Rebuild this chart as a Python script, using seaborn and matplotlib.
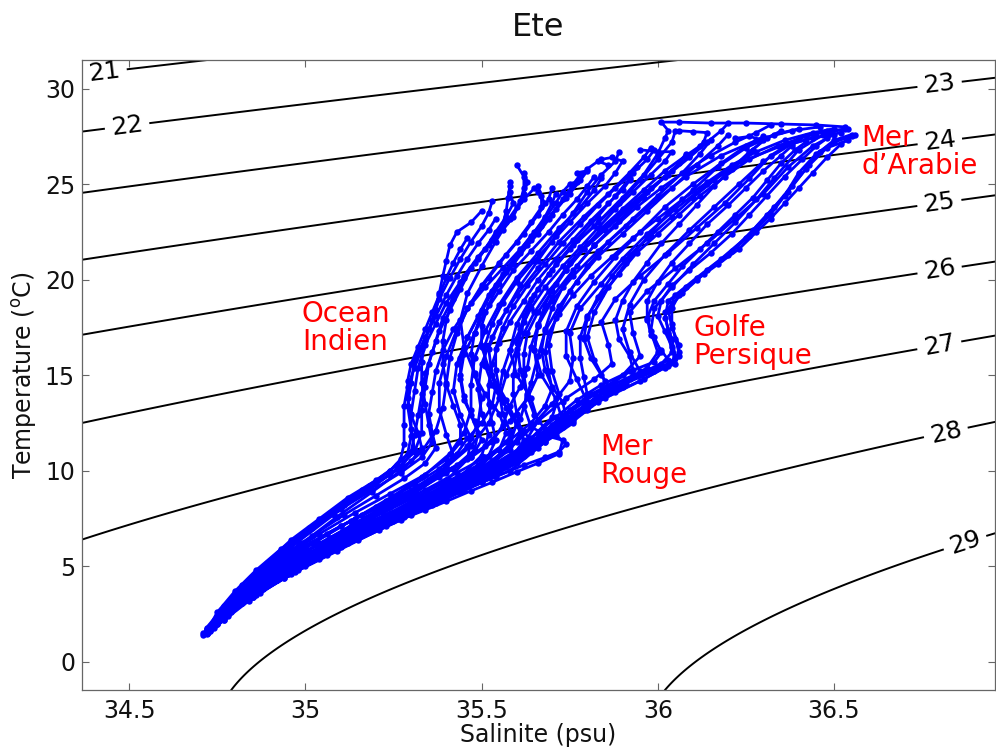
import numpy as np
import pandas as pd
import matplotlib
matplotlib.use("Agg")
import matplotlib.pyplot as plt
import seaborn as sns

# ---- T-S profiles (salinity psu, temperature degC), surface -> deep ----
# Ocean Indien water (fresh, left branch)
st_a1 = [(35.50, 23.6), (35.47, 23.0), (35.43, 22.5), (35.41, 21.8), (35.40, 21.0), (35.39, 20.2),
         (35.38, 19.3), (35.37, 18.4), (35.35, 17.4), (35.33, 16.4), (35.31, 15.4), (35.29, 14.4),
         (35.28, 13.4), (35.28, 12.4), (35.28, 11.4), (35.27, 10.6), (35.24, 10.0), (35.18, 9.2),
         (35.10, 8.1), (35.01, 6.9), (34.93, 5.6), (34.85, 4.4), (34.79, 3.2), (34.75, 2.3), (34.72, 1.6)]
st_a2 = [(35.60, 26.0), (35.62, 25.4), (35.62, 24.8), (35.61, 24.1), (35.59, 23.3), (35.56, 22.6),
         (35.52, 21.8), (35.48, 20.9), (35.44, 19.9), (35.40, 18.8), (35.37, 17.7), (35.34, 16.6),
         (35.32, 15.4), (35.31, 14.2), (35.30, 13.0), (35.30, 11.8), (35.29, 10.9), (35.24, 10.0),
         (35.16, 9.0), (35.07, 7.8), (34.98, 6.5), (34.89, 5.1), (34.82, 3.8), (34.76, 2.6), (34.72, 1.7)]
st_a3 = [(35.58, 24.9), (35.575, 24.3), (35.57, 23.6), (35.56, 22.9), (35.53, 22.1), (35.49, 21.2),
         (35.45, 20.2), (35.42, 19.1), (35.39, 18.0), (35.37, 16.8), (35.35, 15.6), (35.34, 14.4),
         (35.33, 13.2), (35.33, 12.0), (35.31, 11.0), (35.26, 10.1), (35.18, 9.0), (35.08, 7.7),
         (34.98, 6.3), (34.89, 4.9), (34.81, 3.6), (34.75, 2.4), (34.72, 1.6)]
st_a4 = [(35.66, 24.9), (35.67, 24.4), (35.67, 23.8), (35.64, 23.0), (35.60, 22.0), (35.55, 20.9),
         (35.50, 19.7), (35.46, 18.5), (35.43, 17.2), (35.41, 15.9), (35.40, 14.6), (35.39, 13.3),
         (35.37, 12.1), (35.33, 11.0), (35.27, 10.0), (35.19, 8.9), (35.09, 7.6), (34.99, 6.2),
         (34.89, 4.8), (34.81, 3.5), (34.75, 2.3), (34.72, 1.5)]
st_a5 = [(35.54, 23.2), (35.52, 22.6), (35.49, 21.9), (35.46, 21.1), (35.43, 20.2), (35.40, 19.2),
         (35.37, 18.1), (35.34, 17.0), (35.31, 15.8), (35.30, 14.6), (35.29, 13.4), (35.30, 12.2),
         (35.31, 11.1), (35.27, 10.2), (35.20, 9.3), (35.11, 8.2), (35.02, 7.0), (34.93, 5.6),
         (34.85, 4.3), (34.79, 3.1), (34.74, 2.1), (34.72, 1.5)]
st_a6 = [(35.46, 22.2), (35.44, 21.6), (35.42, 20.9), (35.40, 20.1), (35.38, 19.2), (35.36, 18.3),
         (35.34, 17.4), (35.32, 16.5), (35.30, 15.6), (35.29, 14.7), (35.29, 13.8), (35.30, 12.9),
         (35.32, 12.0), (35.33, 11.2), (35.30, 10.5), (35.24, 9.8), (35.17, 9.0), (35.09, 8.0),
         (35.01, 6.9), (34.94, 5.8), (34.87, 4.7), (34.81, 3.6), (34.76, 2.6), (34.72, 1.7)]
st_a7 = [(35.62, 25.6), (35.63, 25.1), (35.62, 24.5), (35.60, 23.8), (35.57, 23.0), (35.53, 22.1),
         (35.49, 21.1), (35.45, 20.1), (35.42, 19.0), (35.40, 17.9), (35.39, 16.8), (35.39, 15.6),
         (35.40, 14.5), (35.42, 13.4), (35.44, 12.4), (35.44, 11.5), (35.40, 10.6), (35.33, 9.7),
         (35.24, 8.8), (35.14, 7.8), (35.04, 6.7), (34.95, 5.6), (34.87, 4.5), (34.80, 3.4),
         (34.75, 2.4), (34.72, 1.6)]
st_a8 = [(35.53, 24.1), (35.52, 23.5), (35.50, 22.8), (35.47, 22.0), (35.44, 21.1), (35.41, 20.1),
         (35.38, 19.0), (35.36, 17.9), (35.34, 16.8), (35.33, 15.7), (35.33, 14.6), (35.34, 13.5),
         (35.35, 12.4), (35.36, 11.5), (35.33, 10.7), (35.27, 9.9), (35.19, 9.0), (35.10, 8.0),
         (35.01, 7.0), (34.93, 5.9), (34.86, 4.8), (34.80, 3.7), (34.75, 2.6), (34.72, 1.6)]
st_a9 = [(35.58, 25.1), (35.58, 24.6), (35.59, 24.0), (35.57, 23.3), (35.54, 22.5), (35.51, 21.6),
         (35.47, 20.6), (35.44, 19.5), (35.41, 18.4), (35.38, 17.3), (35.36, 16.2), (35.34, 15.1),
         (35.33, 14.0), (35.32, 12.9), (35.31, 11.9), (35.30, 11.0), (35.26, 10.3), (35.20, 9.5),
         (35.12, 8.6), (35.04, 7.5), (34.96, 6.4), (34.89, 5.2), (34.82, 4.0), (34.77, 2.9), (34.73, 1.9)]
st_a10 = [(35.71, 24.5), (35.70, 24.0), (35.68, 23.3), (35.65, 22.5), (35.61, 21.6), (35.56, 20.6),
          (35.51, 19.6), (35.46, 18.5), (35.42, 17.4), (35.39, 16.3), (35.37, 15.2), (35.36, 14.1),
          (35.35, 13.0), (35.36, 12.0), (35.37, 11.2), (35.34, 10.4), (35.28, 9.6), (35.20, 8.7),
          (35.11, 7.7), (35.02, 6.6), (34.93, 5.5), (34.86, 4.4), (34.80, 3.3), (34.75, 2.3), (34.72, 1.6)]

# Central stations
st_b1 = [(35.89, 26.7), (35.88, 26.2), (35.84, 25.5), (35.80, 24.6), (35.76, 23.5), (35.71, 22.3),
         (35.66, 21.0), (35.61, 19.7), (35.57, 18.4), (35.53, 17.0), (35.50, 15.6), (35.49, 14.3),
         (35.50, 13.0), (35.52, 11.9), (35.50, 10.8), (35.44, 9.7), (35.34, 8.6), (35.22, 7.4),
         (35.09, 6.1), (34.97, 4.9), (34.86, 3.7), (34.78, 2.5), (34.73, 1.7)]
st_b2 = [(35.78, 25.5), (35.76, 25.0), (35.73, 24.2), (35.69, 23.2), (35.64, 22.1), (35.59, 20.9),
         (35.54, 19.7), (35.50, 18.4), (35.46, 17.0), (35.43, 15.6), (35.42, 14.2), (35.44, 12.9),
         (35.47, 11.7), (35.46, 10.6), (35.40, 9.5), (35.30, 8.4), (35.18, 7.2), (35.05, 5.9),
         (34.93, 4.7), (34.84, 3.5), (34.77, 2.4), (34.72, 1.6)]
st_b3 = [(36.05, 27.8), (36.04, 27.2), (36.00, 26.3), (35.95, 25.2), (35.89, 24.0), (35.82, 22.8),
         (35.75, 21.6), (35.69, 20.3), (35.64, 19.0), (35.60, 17.7), (35.58, 16.3), (35.60, 15.0),
         (35.64, 13.8), (35.66, 12.6), (35.62, 11.4), (35.56, 10.3), (35.45, 9.2), (35.32, 8.0),
         (35.18, 6.8), (35.04, 5.5), (34.92, 4.3), (34.82, 3.1), (34.75, 2.0), (34.72, 1.5)]
st_b4 = [(36.15, 27.3), (36.12, 26.6), (36.07, 25.6), (36.00, 24.4), (35.93, 23.2), (35.86, 22.0),
         (35.80, 20.7), (35.75, 19.4), (35.71, 18.0), (35.69, 16.6), (35.70, 15.2), (35.72, 14.0),
         (35.70, 12.8), (35.64, 11.7), (35.57, 10.6), (35.48, 9.6), (35.36, 8.5), (35.22, 7.2),
         (35.08, 5.9), (34.95, 4.6), (34.85, 3.4), (34.77, 2.3), (34.72, 1.6)]
st_b5 = [(35.98, 26.9), (35.96, 26.4), (35.92, 25.6), (35.86, 24.5), (35.79, 23.3), (35.72, 22.0),
         (35.66, 20.6), (35.60, 19.2), (35.55, 17.8), (35.52, 16.4), (35.53, 15.0), (35.57, 13.7),
         (35.60, 12.5), (35.58, 11.4), (35.52, 10.3), (35.42, 9.2), (35.29, 8.0), (35.15, 6.7),
         (35.01, 5.4), (34.90, 4.2), (34.80, 3.0), (34.74, 1.9), (34.71, 1.4)]
st_b6 = [(36.20, 27.6), (36.17, 27.0), (36.11, 26.0), (36.04, 24.8), (35.97, 23.6), (35.90, 22.4),
         (35.83, 21.2), (35.77, 19.9), (35.72, 18.6), (35.68, 17.3), (35.66, 16.0), (35.64, 14.6),
         (35.62, 13.4), (35.64, 12.3), (35.69, 11.8), (35.73, 11.6), (35.72, 10.9), (35.66, 10.4),
         (35.60, 9.95), (35.53, 9.4), (35.47, 8.95), (35.40, 8.4), (35.34, 7.95), (35.27, 7.45),
         (35.21, 7.0), (35.15, 6.5), (35.10, 6.1), (35.05, 5.7), (35.00, 5.3), (34.95, 4.8),
         (34.90, 4.3), (34.86, 3.8), (34.82, 3.2), (34.79, 2.8), (34.76, 2.3), (34.74, 1.9), (34.72, 1.5)]
st_b7 = [(35.70, 24.8), (35.69, 24.2), (35.66, 23.4), (35.62, 22.4), (35.57, 21.3), (35.52, 20.1),
         (35.47, 18.8), (35.43, 17.4), (35.40, 16.0), (35.38, 14.6), (35.38, 13.2), (35.40, 11.9),
         (35.42, 10.8), (35.38, 9.7), (35.30, 8.7), (35.19, 7.5), (35.06, 6.2), (34.94, 4.9),
         (34.84, 3.7), (34.77, 2.5), (34.72, 1.6)]
st_b8 = [(35.94, 25.9), (35.92, 25.3), (35.88, 24.4), (35.83, 23.3), (35.77, 22.1), (35.71, 20.8),
         (35.66, 19.5), (35.62, 18.1), (35.60, 16.7), (35.61, 15.3), (35.63, 14.0), (35.61, 12.7),
         (35.57, 11.5), (35.50, 10.3), (35.40, 9.2), (35.27, 8.0), (35.13, 6.7), (34.99, 5.3),
         (34.88, 4.1), (34.79, 2.9), (34.73, 1.8)]
st_b9 = [(35.68, 24.0), (35.66, 24.6), (35.65, 24.8), (35.62, 24.2), (35.58, 23.2), (35.54, 22.0),
         (35.50, 20.7), (35.46, 19.3), (35.44, 17.9), (35.45, 16.5), (35.48, 15.1), (35.50, 13.8),
         (35.49, 12.5), (35.46, 11.3), (35.40, 10.2), (35.31, 9.1), (35.20, 7.9), (35.07, 6.5),
         (34.95, 5.2), (34.85, 3.9), (34.77, 2.6), (34.73, 1.7)]
st_b10 = [(36.08, 26.6), (36.06, 26.1), (36.02, 25.4), (35.96, 24.3), (35.89, 23.1), (35.82, 21.8),
          (35.76, 20.5), (35.70, 19.1), (35.66, 17.7), (35.65, 16.3), (35.67, 15.0), (35.71, 13.8),
          (35.73, 12.6), (35.68, 11.5), (35.60, 10.4), (35.50, 9.4), (35.37, 8.3), (35.23, 7.1),
          (35.09, 5.8), (34.96, 4.6), (34.85, 3.4), (34.77, 2.3), (34.72, 1.5)]
st_b11 = [(36.30, 27.5), (36.25, 27.0), (36.18, 26.1), (36.10, 25.0), (36.02, 23.8), (35.95, 22.5),
          (35.88, 21.2), (35.82, 19.9), (35.77, 18.6), (35.74, 17.3), (35.74, 16.0), (35.77, 14.8),
          (35.80, 13.6), (35.76, 12.5), (35.68, 11.5), (35.60, 10.5), (35.50, 9.5), (35.38, 8.5),
          (35.24, 7.3), (35.10, 6.0), (34.97, 4.7), (34.86, 3.5), (34.78, 2.4), (34.73, 1.6)]
st_b12 = [(35.84, 25.3), (35.82, 24.7), (35.78, 23.8), (35.72, 22.7), (35.66, 21.4), (35.60, 20.1),
          (35.55, 18.7), (35.51, 17.3), (35.48, 15.9), (35.47, 14.5), (35.47, 13.2), (35.45, 12.0),
          (35.41, 10.9), (35.34, 9.8), (35.25, 8.7), (35.14, 7.5), (35.02, 6.2), (34.91, 4.9),
          (34.82, 3.6), (34.76, 2.4), (34.72, 1.6)]
st_b13 = [(35.86, 26.0), (35.83, 26.2), (35.80, 25.8), (35.77, 25.1), (35.74, 24.3), (35.70, 23.4),
          (35.66, 22.4), (35.61, 21.4), (35.57, 20.4), (35.53, 19.4), (35.50, 18.3), (35.48, 17.2),
          (35.47, 16.1), (35.48, 15.0), (35.51, 14.0), (35.55, 13.0), (35.57, 12.0), (35.55, 11.1),
          (35.49, 10.3), (35.41, 9.5), (35.32, 8.7), (35.22, 7.8), (35.11, 6.8), (35.00, 5.8),
          (34.91, 4.8), (34.83, 3.8), (34.77, 2.8), (34.73, 1.9)]
st_b14 = [(35.95, 26.8), (36.00, 26.7), (36.04, 26.7), (36.02, 26.2), (35.98, 25.5), (35.93, 24.6),
          (35.88, 23.7), (35.83, 22.7), (35.78, 21.7), (35.73, 20.7), (35.68, 19.6), (35.64, 18.5),
          (35.61, 17.4), (35.58, 16.3), (35.56, 15.2), (35.55, 14.1), (35.56, 13.0), (35.58, 12.1),
          (35.58, 11.3), (35.53, 10.5), (35.45, 9.7), (35.35, 8.8), (35.24, 7.8), (35.12, 6.8),
          (35.01, 5.7), (34.91, 4.6), (34.83, 3.5), (34.77, 2.5), (34.73, 1.7)]
st_b15 = [(35.75, 25.0), (35.73, 24.6), (35.71, 24.0), (35.68, 23.2), (35.64, 22.3), (35.60, 21.3),
          (35.56, 20.3), (35.52, 19.2), (35.49, 18.1), (35.46, 17.0), (35.44, 15.9), (35.44, 14.8),
          (35.45, 13.7), (35.48, 12.6), (35.50, 11.6), (35.47, 10.7), (35.40, 9.9), (35.31, 9.0),
          (35.21, 8.1), (35.10, 7.1), (34.99, 6.0), (34.90, 4.9), (34.82, 3.8), (34.76, 2.7), (34.72, 1.8)]
st_b16 = [(36.12, 27.0), (36.08, 26.5), (36.02, 25.7), (35.96, 24.7), (35.90, 23.7), (35.84, 22.7),
          (35.79, 21.6), (35.74, 20.5), (35.70, 19.4), (35.66, 18.3), (35.63, 17.2), (35.62, 16.1),
          (35.62, 15.0), (35.63, 13.9), (35.65, 12.9), (35.68, 12.2), (35.71, 11.9), (35.74, 11.4),
          (35.72, 11.0), (35.68, 10.7), (35.62, 10.3), (35.54, 9.7), (35.44, 8.9), (35.32, 8.0),
          (35.20, 7.0), (35.08, 5.9), (34.97, 4.8), (34.87, 3.7), (34.79, 2.7), (34.74, 1.9), (34.72, 1.5)]
st_b17 = [(35.99, 26.8), (35.97, 26.3), (35.93, 25.6), (35.88, 24.8), (35.83, 23.9), (35.78, 22.9),
          (35.73, 21.9), (35.68, 20.8), (35.63, 19.7), (35.59, 18.6), (35.56, 17.5), (35.54, 16.4),
          (35.54, 15.3), (35.55, 14.3), (35.57, 13.3), (35.60, 12.4), (35.62, 11.6), (35.59, 10.8),
          (35.53, 10.1), (35.45, 9.3), (35.36, 8.4), (35.26, 7.5), (35.15, 6.5), (35.04, 5.4),
          (34.94, 4.4), (34.85, 3.4), (34.78, 2.5), (34.73, 1.7)]
st_b18 = [(35.82, 25.4), (35.80, 24.9), (35.77, 24.2), (35.73, 23.4), (35.69, 22.5), (35.64, 21.5),
          (35.59, 20.5), (35.55, 19.4), (35.51, 18.3), (35.48, 17.2), (35.45, 16.1), (35.44, 15.0),
          (35.45, 13.9), (35.47, 12.9), (35.49, 12.0), (35.48, 11.1), (35.43, 10.3), (35.35, 9.5),
          (35.26, 8.6), (35.16, 7.7), (35.06, 6.7), (34.96, 5.6), (34.88, 4.5), (34.81, 3.4),
          (34.76, 2.4), (34.72, 1.6)]
st_b19 = [(35.92, 25.2), (35.90, 24.7), (35.86, 24.0), (35.81, 23.1), (35.76, 22.1), (35.71, 21.1),
          (35.66, 20.0), (35.62, 18.9), (35.58, 17.8), (35.55, 16.7), (35.53, 15.6), (35.52, 14.5),
          (35.52, 13.5), (35.53, 12.5), (35.54, 11.6), (35.52, 10.8), (35.47, 10.0), (35.39, 9.2),
          (35.30, 8.3), (35.20, 7.4), (35.09, 6.4), (34.99, 5.3), (34.90, 4.2), (34.82, 3.2),
          (34.76, 2.3), (34.72, 1.6)]
st_b20 = [(36.20, 28.2), (36.18, 27.8), (36.14, 27.2), (36.09, 26.4), (36.03, 25.5), (35.97, 24.6),
          (35.91, 23.6), (35.85, 22.6), (35.79, 21.6), (35.74, 20.5), (35.69, 19.4), (35.65, 18.3),
          (35.62, 17.2), (35.60, 16.1), (35.59, 15.0), (35.59, 14.0), (35.60, 13.0), (35.61, 12.0),
          (35.58, 11.1), (35.52, 10.3), (35.44, 9.5), (35.34, 8.6), (35.23, 7.7), (35.12, 6.7),
          (35.01, 5.6), (34.92, 4.5), (34.83, 3.4), (34.77, 2.4), (34.72, 1.6)]
st_b21 = [(36.06, 27.8), (36.10, 27.75), (36.14, 27.7), (36.13, 27.2), (36.09, 26.5), (36.04, 25.7),
          (35.98, 24.8), (35.92, 23.9), (35.86, 22.9), (35.80, 21.9), (35.75, 20.9), (35.71, 19.8),
          (35.68, 18.7), (35.66, 17.6), (35.64, 16.5), (35.63, 15.4), (35.61, 14.4), (35.58, 13.4),
          (35.56, 12.4), (35.53, 11.5), (35.47, 10.7), (35.39, 9.9), (35.30, 9.0), (35.20, 8.1),
          (35.10, 7.1), (35.00, 6.0), (34.91, 4.9), (34.83, 3.8), (34.77, 2.7), (34.73, 1.8)]
st_b22 = [(35.84, 26.3), (35.87, 26.4), (35.90, 26.2), (35.88, 25.6), (35.85, 24.9), (35.80, 24.0),
          (35.75, 23.0), (35.70, 22.0), (35.65, 21.0), (35.60, 19.9), (35.56, 18.8), (35.53, 17.7),
          (35.51, 16.6), (35.51, 15.5), (35.53, 14.5), (35.56, 13.6), (35.59, 12.8), (35.62, 12.1),
          (35.64, 11.5), (35.60, 10.8), (35.52, 10.1), (35.43, 9.3), (35.33, 8.5), (35.22, 7.6),
          (35.11, 6.6), (35.00, 5.6), (34.90, 4.5), (34.82, 3.4), (34.76, 2.4), (34.72, 1.6)]
st_b23 = [(35.77, 25.6), (35.80, 25.7), (35.78, 25.2), (35.75, 24.5), (35.71, 23.7), (35.67, 22.8),
          (35.63, 21.8), (35.59, 20.8), (35.55, 19.8), (35.52, 18.7), (35.50, 17.6), (35.50, 16.5),
          (35.52, 15.4), (35.54, 14.4), (35.53, 13.4), (35.50, 12.5), (35.46, 11.7), (35.43, 10.9),
          (35.38, 10.1), (35.31, 9.3), (35.23, 8.4), (35.13, 7.4), (35.03, 6.3), (34.94, 5.2),
          (34.86, 4.1), (34.80, 3.0), (34.75, 2.1), (34.72, 1.5)]

# Mer d'Arabie surface water feeding the Golfe Persique tongue
st_c1 = [(36.55, 27.5), (36.50, 27.2), (36.45, 26.6), (36.40, 25.6), (36.36, 24.4), (36.32, 23.4),
         (36.26, 22.3), (36.20, 21.3), (36.13, 20.3), (36.07, 19.3), (36.02, 18.3), (36.03, 17.2),
         (36.04, 16.2), (36.01, 15.6), (35.92, 14.8), (35.82, 13.6), (35.74, 12.6), (35.66, 11.2),
         (35.58, 10.0), (35.45, 9.0), (35.30, 7.7), (35.15, 6.4), (35.00, 5.0), (34.88, 3.8),
         (34.80, 2.8), (34.75, 2.0), (34.72, 1.5)]
st_c2 = [(36.53, 27.9), (36.47, 27.6), (36.40, 26.8), (36.33, 25.3), (36.28, 24.2), (36.22, 23.0),
         (36.16, 21.9), (36.10, 20.8), (36.04, 19.6), (35.99, 18.5), (35.98, 17.3), (36.00, 16.2),
         (35.97, 15.4), (35.88, 14.4), (35.80, 13.2), (35.72, 12.2), (35.62, 10.8), (35.52, 9.7),
         (35.40, 8.6), (35.25, 7.4), (35.10, 6.1), (34.97, 4.8), (34.86, 3.6), (34.78, 2.5), (34.73, 1.7)]
st_c3 = [(36.50, 27.6), (36.44, 27.0), (36.37, 25.9), (36.30, 24.5), (36.22, 23.2), (36.14, 21.9),
         (36.05, 20.6), (35.97, 19.4), (35.92, 18.3), (35.93, 17.2), (35.95, 16.0), (35.90, 15.0),
         (35.82, 14.0), (35.74, 12.9), (35.67, 11.9), (35.58, 10.6), (35.47, 9.5), (35.33, 8.3),
         (35.18, 7.0), (35.04, 5.7), (34.92, 4.4), (34.82, 3.2), (34.75, 2.1), (34.72, 1.5)]
st_c4 = [(36.53, 28.0), (36.45, 28.1), (36.35, 28.15), (36.25, 28.2), (36.15, 28.2), (36.06, 28.25),
         (36.01, 28.25), (36.03, 27.8), (36.02, 27.4), (36.00, 26.6), (35.96, 25.5), (35.90, 24.3),
         (35.83, 23.0), (35.76, 21.8), (35.70, 20.5), (35.65, 19.2), (35.62, 17.8), (35.60, 16.4),
         (35.57, 15.0), (35.55, 13.8), (35.52, 12.5), (35.47, 11.3), (35.40, 10.2), (35.30, 8.9),
         (35.18, 7.6), (35.05, 6.1), (34.93, 4.8), (34.83, 3.5), (34.76, 2.3), (34.72, 1.6)]
st_c5 = [(36.54, 27.3), (36.48, 26.9), (36.43, 26.0), (36.38, 24.9), (36.33, 23.8), (36.27, 22.6),
         (36.21, 21.5), (36.14, 20.5), (36.08, 19.6), (36.03, 18.9), (36.02, 18.0), (36.04, 16.9),
         (36.05, 16.0), (36.03, 15.5), (35.95, 14.7), (35.85, 13.8), (35.76, 12.9), (35.70, 12.2),
         (35.63, 11.1), (35.55, 10.0), (35.42, 8.9), (35.28, 7.6), (35.12, 6.2), (34.98, 4.8),
         (34.87, 3.6), (34.79, 2.6), (34.74, 1.8), (34.72, 1.45)]
st_c6 = [(36.48, 27.8), (36.40, 27.4), (36.32, 26.5), (36.26, 25.3), (36.19, 24.0), (36.11, 22.7),
         (36.03, 21.4), (35.95, 20.2), (35.88, 19.0), (35.84, 17.8), (35.86, 16.6), (35.87, 15.6),
         (35.82, 14.8), (35.74, 13.8), (35.66, 12.6), (35.60, 11.5), (35.52, 10.2), (35.40, 9.0),
         (35.26, 7.8), (35.12, 6.5), (34.99, 5.2), (34.88, 4.0), (34.79, 2.8), (34.74, 1.9), (34.72, 1.5)]
st_c7 = [(36.52, 27.7), (36.44, 27.4), (36.35, 27.0), (36.24, 26.2), (36.14, 25.0), (36.05, 23.7),
         (35.97, 22.4), (35.90, 21.1), (35.84, 19.8), (35.78, 18.5), (35.75, 17.2), (35.76, 15.9),
         (35.75, 14.7), (35.70, 13.5), (35.64, 12.3), (35.57, 11.1), (35.48, 9.9), (35.36, 8.7),
         (35.22, 7.4), (35.08, 6.1), (34.95, 4.8), (34.85, 3.6), (34.77, 2.4), (34.72, 1.6)]
st_c8 = [(36.46, 28.0), (36.38, 27.8), (36.28, 27.3), (36.18, 26.5), (36.08, 25.4), (35.99, 24.1),
         (35.91, 22.8), (35.83, 21.5), (35.76, 20.2), (35.70, 18.9), (35.66, 17.6), (35.65, 16.3),
         (35.66, 15.0), (35.63, 13.8), (35.58, 12.6), (35.51, 11.3), (35.42, 10.1), (35.31, 8.9),
         (35.18, 7.6), (35.04, 6.2), (34.92, 4.9), (34.82, 3.6), (34.75, 2.3), (34.71, 1.5)]
st_c9 = [(36.55, 27.6), (36.50, 27.3), (36.46, 26.7), (36.42, 25.8), (36.37, 24.6), (36.31, 23.4),
         (36.25, 22.2), (36.18, 21.1), (36.11, 20.1), (36.05, 19.2), (36.03, 18.4), (36.04, 17.5),
         (36.06, 16.6), (36.06, 16.0), (36.04, 15.7), (35.95, 15.0), (35.85, 14.2), (35.77, 13.1),
         (35.72, 12.4), (35.66, 11.6), (35.60, 10.5), (35.50, 9.4), (35.36, 8.2), (35.21, 6.9),
         (35.06, 5.6), (34.94, 4.4), (34.84, 3.2), (34.77, 2.2), (34.73, 1.6)]
st_c10 = [(36.40, 27.9), (36.33, 27.6), (36.25, 26.9), (36.17, 25.9), (36.10, 24.7), (36.03, 23.5),
          (35.97, 22.2), (35.91, 20.9), (35.86, 19.6), (35.82, 18.3), (35.80, 17.0), (35.82, 15.8),
          (35.85, 14.7), (35.83, 13.6), (35.76, 12.6), (35.68, 11.6), (35.60, 10.6), (35.49, 9.6),
          (35.36, 8.5), (35.22, 7.2), (35.08, 5.9), (34.95, 4.6), (34.84, 3.3), (34.77, 2.2), (34.72, 1.5)]
st_c11 = [(36.45, 27.5), (36.38, 27.1), (36.30, 26.2), (36.23, 25.0), (36.16, 23.8), (36.09, 22.6),
          (36.02, 21.3), (35.96, 20.0), (35.92, 18.7), (35.90, 17.4), (35.92, 16.2), (35.95, 15.2),
          (35.90, 14.4), (35.81, 13.5), (35.73, 12.5), (35.65, 11.4), (35.56, 10.3), (35.45, 9.3),
          (35.32, 8.2), (35.18, 6.9), (35.04, 5.6), (34.92, 4.3), (34.82, 3.1), (34.75, 2.0), (34.72, 1.5)]
st_c12 = [(36.50, 27.9), (36.44, 27.7), (36.36, 27.3), (36.28, 26.7), (36.21, 26.0), (36.14, 25.1),
          (36.07, 24.2), (36.00, 23.2), (35.93, 22.2), (35.87, 21.2), (35.81, 20.2), (35.76, 19.2),
          (35.72, 18.2), (35.69, 17.2), (35.68, 16.2), (35.69, 15.2), (35.70, 14.3), (35.68, 13.4),
          (35.64, 12.5), (35.58, 11.6), (35.51, 10.7), (35.43, 9.9), (35.34, 9.0), (35.24, 8.1),
          (35.13, 7.1), (35.03, 6.1), (34.94, 5.1), (34.86, 4.1), (34.80, 3.2), (34.76, 2.4), (34.73, 1.7)]
st_c13 = [(36.42, 27.2), (36.39, 26.8), (36.35, 26.1), (36.31, 25.2), (36.27, 24.3), (36.22, 23.4),
          (36.17, 22.5), (36.12, 21.6), (36.07, 20.7), (36.03, 19.8), (35.99, 18.9), (35.97, 18.0),
          (35.98, 17.1), (36.01, 16.3), (36.03, 15.8), (36.00, 15.5), (35.93, 15.0), (35.86, 14.4),
          (35.79, 13.7), (35.73, 12.9), (35.68, 12.1), (35.62, 11.2), (35.55, 10.3), (35.46, 9.5),
          (35.36, 8.6), (35.25, 7.7), (35.13, 6.7), (35.02, 5.7), (34.92, 4.7), (34.84, 3.7),
          (34.78, 2.8), (34.74, 2.0), (34.72, 1.5)]
st_c14 = [(36.35, 27.8), (36.31, 27.4), (36.26, 26.7), (36.21, 25.8), (36.16, 24.9), (36.11, 23.9),
          (36.06, 22.9), (36.01, 21.9), (35.97, 20.9), (35.93, 19.9), (35.90, 18.9), (35.88, 17.9),
          (35.89, 16.9), (35.92, 16.0), (35.93, 15.3), (35.88, 14.7), (35.81, 14.0), (35.75, 13.2),
          (35.70, 12.4), (35.65, 11.6), (35.59, 10.8), (35.51, 10.0), (35.42, 9.1), (35.31, 8.2),
          (35.19, 7.2), (35.07, 6.1), (34.96, 5.0), (34.87, 3.9), (34.80, 2.9), (34.75, 2.1), (34.72, 1.5)]
st_c15 = [(36.48, 27.4), (36.45, 27.0), (36.41, 26.3), (36.36, 25.4), (36.31, 24.4), (36.26, 23.4),
          (36.21, 22.4), (36.15, 21.4), (36.09, 20.5), (36.04, 19.7), (36.01, 18.9), (36.00, 18.1),
          (36.02, 17.3), (36.04, 16.5), (36.05, 15.9), (36.02, 15.4), (35.96, 14.8), (35.88, 14.1),
          (35.80, 13.3), (35.74, 12.5), (35.69, 11.8), (35.64, 11.0), (35.57, 10.2), (35.48, 9.4),
          (35.37, 8.5), (35.25, 7.5), (35.13, 6.5), (35.01, 5.4), (34.91, 4.3), (34.83, 3.3),
          (34.77, 2.4), (34.73, 1.7)]
st_c16 = [(36.56, 27.6), (36.52, 27.1), (36.48, 26.4), (36.44, 25.6), (36.40, 24.8), (36.36, 24.0),
          (36.32, 23.2), (36.28, 22.5), (36.23, 21.6), (36.17, 20.8), (36.11, 20.0), (36.06, 19.2),
          (36.04, 18.5), (36.04, 17.7), (36.05, 16.9), (36.06, 16.2), (36.05, 15.6), (35.99, 15.2),
          (35.91, 14.6), (35.83, 13.9), (35.76, 13.0), (35.71, 12.3), (35.66, 11.5), (35.60, 10.6),
          (35.51, 9.7), (35.40, 8.8), (35.28, 7.8), (35.16, 6.8), (35.04, 5.7), (34.94, 4.6),
          (34.85, 3.5), (34.78, 2.5), (34.73, 1.7)]
st_c17 = [(36.32, 28.1), (36.28, 27.7), (36.22, 27.2), (36.15, 26.5), (36.08, 25.7), (36.01, 24.8),
          (35.94, 23.8), (35.88, 22.8), (35.82, 21.8), (35.77, 20.7), (35.73, 19.6), (35.70, 18.5),
          (35.68, 17.4), (35.67, 16.3), (35.68, 15.3), (35.70, 14.4), (35.73, 13.6), (35.74, 12.8),
          (35.70, 12.0), (35.64, 11.2), (35.57, 10.4), (35.48, 9.6), (35.38, 8.8), (35.27, 7.9),
          (35.15, 6.9), (35.04, 5.8), (34.94, 4.7), (34.85, 3.6), (34.78, 2.6), (34.73, 1.7)]
st_c18 = [(36.38, 27.0), (36.35, 26.5), (36.30, 25.7), (36.25, 24.8), (36.20, 23.9), (36.14, 22.9),
          (36.09, 21.9), (36.04, 20.9), (36.00, 19.9), (35.97, 18.9), (35.97, 17.9), (35.99, 17.0),
          (36.01, 16.2), (35.99, 15.7), (35.92, 15.2), (35.84, 14.5), (35.77, 13.7), (35.71, 12.8),
          (35.66, 12.0), (35.61, 11.2), (35.54, 10.4), (35.45, 9.6), (35.35, 8.7), (35.23, 7.7),
          (35.11, 6.7), (35.00, 5.6), (34.90, 4.5), (34.82, 3.4), (34.76, 2.4), (34.72, 1.6)]
st_c19 = [(36.54, 27.9), (36.49, 27.8), (36.42, 27.5), (36.34, 27.0), (36.26, 26.3), (36.19, 25.4),
          (36.12, 24.4), (36.06, 23.4), (36.00, 22.4), (35.94, 21.4), (35.89, 20.3), (35.84, 19.2),
          (35.80, 18.1), (35.78, 17.0), (35.78, 15.9), (35.79, 14.9), (35.80, 14.0), (35.78, 13.1),
          (35.73, 12.3), (35.67, 11.5), (35.60, 10.7), (35.52, 9.9), (35.42, 9.1), (35.31, 8.2),
          (35.19, 7.2), (35.08, 6.2), (34.97, 5.1), (34.88, 4.0), (34.80, 3.0), (34.75, 2.1), (34.72, 1.5)]
st_c20 = [(36.22, 27.4), (36.26, 27.5), (36.30, 27.3), (36.27, 26.8), (36.22, 26.0), (36.16, 25.2),
          (36.10, 24.3), (36.04, 23.3), (35.98, 22.3), (35.92, 21.3), (35.87, 20.2), (35.83, 19.1),
          (35.80, 18.0), (35.79, 16.9), (35.81, 15.9), (35.84, 15.0), (35.86, 14.4), (35.82, 13.7),
          (35.76, 13.0), (35.70, 12.2), (35.64, 11.4), (35.57, 10.6), (35.49, 9.8), (35.39, 9.0),
          (35.28, 8.1), (35.16, 7.1), (35.05, 6.0), (34.95, 4.9), (34.86, 3.8), (34.79, 2.8),
          (34.74, 1.9), (34.72, 1.5)]

profiles = {
    "a1": st_a1, "a2": st_a2, "a3": st_a3, "a4": st_a4, "a5": st_a5,
    "a6": st_a6, "a7": st_a7, "a8": st_a8, "a9": st_a9, "a10": st_a10,
    "b1": st_b1, "b2": st_b2, "b3": st_b3, "b4": st_b4, "b5": st_b5, "b6": st_b6,
    "b7": st_b7, "b8": st_b8, "b9": st_b9, "b10": st_b10, "b11": st_b11, "b12": st_b12,
    "b13": st_b13, "b14": st_b14, "b15": st_b15, "b16": st_b16, "b17": st_b17,
    "b18": st_b18, "b19": st_b19, "b20": st_b20, "b21": st_b21, "b22": st_b22, "b23": st_b23,
    "c1": st_c1, "c2": st_c2, "c3": st_c3, "c4": st_c4, "c5": st_c5, "c6": st_c6,
    "c7": st_c7, "c8": st_c8, "c9": st_c9, "c10": st_c10, "c11": st_c11, "c12": st_c12,
    "c13": st_c13, "c14": st_c14, "c15": st_c15, "c16": st_c16, "c17": st_c17,
    "c18": st_c18, "c19": st_c19, "c20": st_c20,
}

sigma_levels = [21, 22, 23, 24, 25, 26, 27, 28, 29]

regions = ["Ocean\nIndien", "Golfe\nPersique", "Mer\nRouge", "Mer\nd\u2019Arabie"]
region_pos = [(34.99, 17.45), (36.10, 16.72), (35.838, 10.53), (36.577, 26.68)]

# label anchors for the isopycnals (salinity, temperature)
clabel_pos = [(34.43, 30.88), (34.494, 28.04), (36.80, 30.19), (36.80, 27.3), (36.80, 23.9),
              (36.80, 20.48), (36.80, 16.45), (36.82, 11.8), (36.875, 6.07)]

rows = []
for name, pts in profiles.items():
    for s, t in pts:
        rows.append({"profile": name, "S": s, "T": t})
df = pd.DataFrame(rows)


def sigma_t(S, T):
    """EOS-80 one-atmosphere density anomaly (kg m-3)."""
    rw = (999.842594 + 6.793952e-2 * T - 9.095290e-3 * T**2 + 1.001685e-4 * T**3
          - 1.120083e-6 * T**4 + 6.536332e-9 * T**5)
    a = 0.824493 - 4.0899e-3 * T + 7.6438e-5 * T**2 - 8.2467e-7 * T**3 + 5.3875e-9 * T**4
    b = -5.72466e-3 + 1.0227e-4 * T - 1.6546e-6 * T**2
    c = 4.8314e-4
    return rw + a * S + b * S**1.5 + c * S**2 - 1000.0


sns.set_theme(style="white")
plt.rcParams["font.family"] = ["DejaVu Sans"]
plt.rcParams["mathtext.fontset"] = "dejavusans"

fig = plt.figure(figsize=(9.96, 7.48), dpi=100)
ax = fig.add_axes([82 / 996, 1 - 690 / 748, (995 - 82) / 996, (690 - 60) / 748])

xlim = (34.366, 36.957)
ylim = (-1.47, 31.5)

sg, tg = np.meshgrid(np.linspace(34.2, 37.1, 300), np.linspace(-3, 33, 300))
cs = ax.contour(sg, tg, sigma_t(sg, tg), levels=sigma_levels, colors="black", linewidths=1.4)

sns.lineplot(data=df, x="S", y="T", units="profile", estimator=None, sort=False,
             color="#0000ff", lw=2.0, marker="o", markersize=4.6, markeredgewidth=0,
             legend=False, ax=ax, zorder=3)

ax.clabel(cs, fmt="%d", manual=clabel_pos, inline=True, inline_spacing=4, fontsize=18, colors="black")

for txt, (x, y) in zip(regions, region_pos):
    ax.text(x, y, txt, color="#ff0000", fontsize=20, ha="left", va="center", linespacing=1.0, zorder=5)

ax.set_xlim(*xlim)
ax.set_ylim(*ylim)
ax.set_xticks([34.5, 35, 35.5, 36, 36.5])
ax.set_xticklabels(["34.5", "35", "35.5", "36", "36.5"])
ax.set_yticks([0, 5, 10, 15, 20, 25, 30])
ax.tick_params(direction="in", length=5, width=0.8, color="#666666", labelsize=17,
               top=True, right=True, bottom=True, left=True, labelcolor="#111111")
ax.tick_params(axis="x", pad=6.5)
ax.tick_params(axis="y", pad=5)
for sp in ax.spines.values():
    sp.set_color("#666666")
    sp.set_linewidth(0.9)

ax.set_xlabel("Salinite (psu)", fontsize=17, labelpad=0, color="#111111")
ax.set_ylabel(r"Temperature ($^{\mathrm{o}}$C)", fontsize=17, labelpad=4, color="#111111")
ax.set_title("Ete", fontsize=23, pad=17, color="#111111")

fig.savefig("out.png", dpi=100)
